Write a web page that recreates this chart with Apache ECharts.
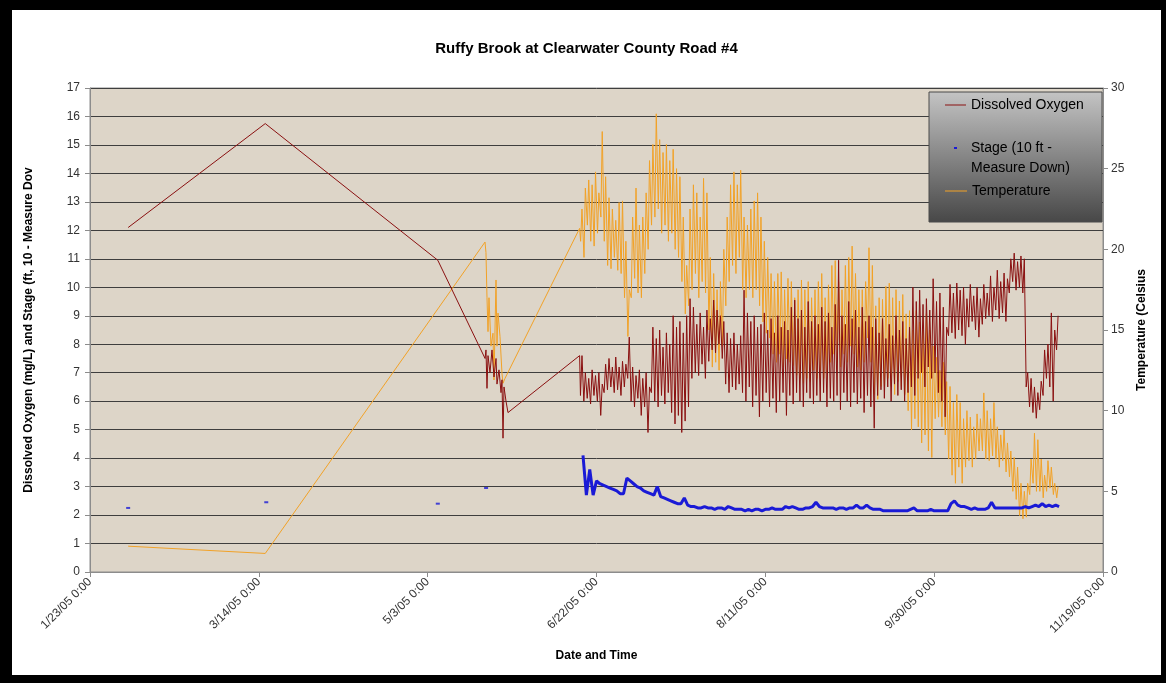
<!DOCTYPE html>
<html><head><meta charset="utf-8">
<script src="https://cdn.jsdelivr.net/npm/echarts@6/dist/echarts.min.js"></script>
<style>
html,body{margin:0;padding:0;background:#000;width:1166px;height:683px;overflow:hidden}
#c{position:absolute;left:12px;top:10px;width:1149px;height:665px;background:#fff}
</style></head><body><div id="c"></div>
<script>
// x values are days since 1/23/05 0:00
const xTickLabels = ['1/23/05 0:00','3/14/05 0:00','5/3/05 0:00','6/22/05 0:00','8/11/05 0:00','9/30/05 0:00','11/19/05 0:00'];
const leftTicks = {min:0, max:17, interval:1};
const rightTicks = {min:0, max:30, interval:5};

// sparse early readings [day, value]
const doSparse = [[11.3,12.1],[51.9,15.75],[103.0,10.95],[117.0,7.5],[117.27,7.8],[117.57,6.45],[117.87,7.6],[118.46,7.0],[119.05,7.8],[119.64,6.85],[120.24,7.5],[120.53,6.6],[121.12,7.1],[121.72,6.3],[122.01,6.75],[122.31,4.7],[122.61,6.5],[123.2,6.0],[123.79,5.6],[145.0,7.6]];
const tempSparse = [[11.3,1.6],[51.9,1.15],[116.98,20.45],[117.27,19.8],[117.57,17.0],[117.87,14.9],[118.16,17.0],[118.75,14.0],[119.34,14.8],[119.64,11.9],[120.24,18.1],[120.53,14.0],[120.83,16.05],[121.42,14.6],[122.01,12.3],[122.31,11.7],[122.9,12.0],[145.0,21.3]];
const stageSparse = [[11.3,2.25],[52.2,2.45],[103.0,2.4],[117.3,2.95]];

// continuous record, one entry per day starting at day 145 (6/17/05)
const denseStartDay = 145;
const tempHigh = [22.5,23.8,24.3,24.0,24.8, 23.5,27.3,24.5,23.2,22.5, 21.8,22.9,23.0,20.5,17.5, 22.0,23.8,21.5,22.0,23.5,
 25.5,26.5,28.4,26.8,26.0, 26.5,25.5,26.2,25.0,24.5, 22.0,19.0,22.5,24.0,23.5, 22.0,24.4,23.5,19.5,18.5,
 17.5,18.0,20.0,22.0,24.0, 24.8,24.0,24.9,22.0,21.5, 22.5,23.0,23.5,22.0,20.5, 19.5,18.5,18.0,18.5,18.6,
 17.5,18.2,18.0,17.0,17.5, 18.1,17.5,18.0,17.0,17.5, 18.0,18.5,17.0,17.8,19.0, 19.3,18.0,17.5,19.0,19.5,
 20.2,18.5,17.5,17.5,18.0, 20.1,19.0,16.5,17.0,16.9, 17.7,17.9,17.0,17.5,16.8, 17.2,16.0,16.2,15.0,16.2,
 15.5,15.0,16.0,15.0,14.0, 13.3,12.5,13.0,11.8,11.5, 10.5,11.0,10.5,9.5,10.0, 9.6,9.0,9.8,9.5,11.1,
 10.0,9.5,10.5,9.0,8.5, 8.8,8.0,7.5,7.1,6.5, 5.5,5.0,5.5,7.0,8.6, 8.2,7.0,6.0,6.9,6.5, 5.5,5.3];
const tempLow = [20.5,19.5,21.5,20.5,20.2, 21.0,22.0,20.5,19.0,18.8, 19.5,18.7,18.5,17.0,14.6, 17.0,18.2,17.3,17.0,18.5,
 20.0,21.5,22.0,22.5,21.0, 21.5,20.5,21.0,20.0,19.5, 18.0,16.0,16.5,17.5,18.5, 17.0,18.0,17.3,15.0,12.7,
 13.0,12.5,14.0,16.5,18.0, 19.0,18.5,19.5,17.5,17.0, 17.5,17.0,17.5,16.5,15.5, 14.8,14.5,13.5,13.0,13.5,
 12.7,13.2,13.0,12.8,12.2, 12.0,11.7,12.0,11.8,12.5, 12.0,12.5,12.0,12.3,13.0, 13.5,13.0,12.7,13.5,13.0,
 14.0,13.5,12.7,12.5,13.0, 14.5,13.0,11.0,10.7,11.5, 11.5,12.0,11.5,11.0,11.8, 11.5,11.0,10.0,8.8,9.5,
 9.0,8.0,8.5,7.5,7.1, 9.5,9.6,9.0,8.5,7.0, 6.0,5.5,6.5,5.5,6.5, 6.9,6.5,7.0,7.5,7.5,
 7.0,6.9,7.2,7.0,6.5, 6.9,6.2,5.9,5.0,4.5, 3.5,3.3,3.4,4.8,5.5, 5.0,5.0,4.6,5.0,5.2, 4.8,4.6];
const doHigh = [7.6,7.0,6.8,7.1,6.9, 7.0,6.6,7.3,7.5,7.2, 7.55,7.2,7.4,7.3,8.25, 7.2,6.9,7.1,6.8,7.0,
 6.5,8.6,8.2,8.5,7.9, 8.4,8.0,9.0,8.6,8.8, 8.4,9.0,9.6,9.3,8.7, 9.1,8.6,9.2,8.9,9.55,
 9.2,9.0,8.8,8.4,8.2, 8.4,8.0,8.3,9.9,9.1, 8.8,9.0,8.6,8.7,9.1, 8.5,8.9,8.4,9.0,8.6,
 8.8,8.5,9.3,9.55,8.9, 9.2,8.6,9.5,8.8,9.0, 8.7,9.3,8.8,9.1,8.6, 9.4,10.95,9.0,8.7,9.5,
 8.9,9.2,8.6,9.3,8.8, 9.0,8.6,8.9,8.4,8.9, 8.2,8.7,8.3,9.0,8.5, 8.8,8.2,8.6,10.0,9.5,
 9.9,9.4,9.6,9.2,10.3, 9.5,9.8,9.3,8.6,10.1, 9.8,10.15,9.9,10.0,9.6, 10.1,9.7,10.0,9.6,10.1,
 9.8,10.4,10.0,10.6,10.2, 10.5,10.3,11.0,11.2,10.9, 11.1,11.0,7.0,6.8,6.5, 6.3,6.7,7.8,8.0,9.1, 8.5,9.0];
const doLow = [6.2,6.0,6.1,5.9,6.2, 6.0,5.5,6.3,6.4,6.5, 6.3,6.4,6.2,6.5,6.8, 6.0,5.8,6.1,5.5,5.8,
 4.9,6.3,6.0,5.8,6.2, 5.9,6.3,5.6,5.2,5.5, 4.9,5.3,5.8,6.8,7.0, 6.9,7.3,6.8,7.4,7.8,
 7.7,8.0,7.5,6.6,6.3, 6.5,6.4,6.6,6.3,6.0, 6.5,5.8,6.2,5.45,6.0, 6.3,5.8,6.1,5.6,6.0,
 6.3,5.5,6.2,5.9,6.3, 6.0,5.8,6.3,6.1,5.9, 6.2,6.0,6.3,5.8,6.1, 6.0,6.2,5.7,6.3,6.0,
 5.8,6.3,5.9,6.1,5.6, 6.2,5.8,5.05,6.2,6.4, 6.1,6.5,6.0,6.6,6.2, 6.4,6.0,6.3,6.5,6.2,
 6.8,7.0,6.5,7.2,6.8, 7.0,6.3,6.0,5.45,8.3, 8.4,8.2,8.5,8.3,8.0, 8.6,8.8,8.5,8.25,8.7,
 8.9,9.0,8.8,9.2,8.9, 9.1,8.8,9.8,10.2,9.9, 10.0,9.8,6.5,5.8,5.6, 5.4,5.7,6.2,6.8,6.5, 6.0,7.8];
// stage, one entry per day starting at day 146
const stageStartDay = 146;
const stageDaily = [4.1,2.7,3.6,2.7,3.2, 3.1,3.05,3.0,2.95,2.9, 2.85,2.75,2.75,3.3,3.2, 3.1,3.0,2.95,2.85,2.8,
 2.75,2.7,3.0,2.65,2.6, 2.55,2.5,2.45,2.4,2.4, 2.6,2.35,2.3,2.3,2.25, 2.25,2.3,2.25,2.25,2.2,
 2.25,2.25,2.2,2.3,2.25, 2.2,2.2,2.2,2.15,2.2, 2.15,2.2,2.2,2.15,2.2, 2.2,2.25,2.2,2.2,2.2,
 2.3,2.25,2.3,2.25,2.2, 2.2,2.25,2.25,2.3,2.45, 2.3,2.25,2.25,2.25,2.25, 2.2,2.25,2.25,2.2,2.25,
 2.25,2.35,2.25,2.25,2.35, 2.25,2.2,2.2,2.2,2.15, 2.15,2.15,2.15,2.15,2.15, 2.15,2.15,2.2,2.25,2.15,
 2.15,2.15,2.15,2.2,2.15, 2.15,2.15,2.15,2.15,2.4, 2.5,2.35,2.3,2.3,2.25, 2.2,2.25,2.2,2.2,2.2,
 2.25,2.45,2.25,2.25,2.25, 2.25,2.25,2.25,2.25,2.25, 2.25,2.3,2.25,2.3,2.35, 2.3,2.4,2.3,2.35,2.3, 2.35,2.3];

const seriesNames = ['Dissolved Oxygen','Stage (10 ft - Measure Down)','Temperature'];

// build point lists
const doData = doSparse.slice();
doHigh.forEach((h,i)=>{ const d=denseStartDay+i; doData.push([d+0.25, doLow[i]]); doData.push([d+0.7, h]); });
const tempData = tempSparse.slice();
tempHigh.forEach((h,i)=>{ const d=denseStartDay+i; tempData.push([d+0.3, tempLow[i]]); tempData.push([d+0.7, h]); });
const stageData = stageDaily.map((v,i)=>[stageStartDay+i, v]);

const FONT = 'Arial, "Liberation Sans", sans-serif';
const chart = echarts.init(document.getElementById('c'), null, {renderer:'canvas'});
const axisGray = '#8c8c8c';
chart.setOption({
  animation:false,
  backgroundColor:'#fff',
  textStyle:{fontFamily:FONT},
  title:{text:'Ruffy Brook at Clearwater County Road #4', left:'center', top:26,
    textStyle:{fontFamily:FONT, fontSize:15, fontWeight:'bold', color:'#000'}},
  grid:{left:78, top:78, width:1013, height:484, show:true, backgroundColor:'#ddd5c8', borderColor:axisGray, borderWidth:1},
  xAxis:{type:'value', min:0, max:300, interval:50,
    name:'Date and Time', nameLocation:'middle', nameGap:78,
    nameTextStyle:{fontFamily:FONT, fontSize:12, fontWeight:'bold', color:'#000'},
    axisLine:{lineStyle:{color:axisGray}}, axisTick:{show:true, length:5, lineStyle:{color:axisGray}},
    splitLine:{show:false},
    axisLabel:{rotate:45, fontSize:12, color:'#333', margin:8, fontFamily:FONT,
      formatter:v=>xTickLabels[Math.round(v/50)]}},
  yAxis:[
    {type:'value', min:leftTicks.min, max:leftTicks.max, interval:leftTicks.interval, position:'left',
     name:'Dissolved Oxygen (mg/L) and Stage (ft, 10 - Measure Dov', nameLocation:'middle', nameGap:55, nameRotate:90,
     nameTextStyle:{fontFamily:FONT, fontSize:12, fontWeight:'bold', color:'#000'},
     axisLine:{show:true, lineStyle:{color:axisGray}}, axisTick:{show:true, length:5, lineStyle:{color:axisGray}},
     axisLabel:{fontSize:12, color:'#333', margin:10, fontFamily:FONT},
     splitLine:{show:true, lineStyle:{color:'#3e3e3e', width:1}}},
    {type:'value', min:rightTicks.min, max:rightTicks.max, interval:rightTicks.interval, position:'right',
     name:'Temperature (Celsius', nameLocation:'middle', nameGap:28, nameRotate:90,
     nameTextStyle:{fontFamily:FONT, fontSize:12, fontWeight:'bold', color:'#000'},
     axisLine:{show:true, lineStyle:{color:axisGray}}, axisTick:{show:true, length:5, lineStyle:{color:axisGray}},
     axisLabel:{fontSize:12, color:'#333', margin:8, fontFamily:FONT},
     splitLine:{show:false}}
  ],
  graphic:[{type:'rect', z:5, shape:{x:917, y:82, width:173, height:130},
    style:{fill:new echarts.graphic.LinearGradient(0,0,0,1,[{offset:0,color:'#c4c4c4'},{offset:1,color:'#474747'}]), stroke:'#4a4a4a', lineWidth:1}}],
  legend:[
    {z:6, left:933, top:85, padding:0, itemWidth:21, itemHeight:1, selectedMode:false,
     data:[{name:seriesNames[0], icon:'rect'}], itemStyle:{borderWidth:0},
     textStyle:{fontFamily:FONT, fontSize:14, color:'#000', lineHeight:20}},
    {z:6, left:933, top:128, padding:0, itemWidth:21, itemHeight:22, selectedMode:false,
     data:[{name:seriesNames[1], icon:'path://M0,0L0,0M21,0L21,0M9,0H12V2H9ZM0,22L0,22'}], itemStyle:{borderWidth:0},
     formatter:()=> 'Stage (10 ft -\nMeasure Down)',
     textStyle:{fontFamily:FONT, fontSize:14, color:'#000', lineHeight:20}},
    {z:6, left:933, top:171, padding:0, itemWidth:22, itemHeight:1, selectedMode:false,
     data:[{name:seriesNames[2], icon:'rect'}], itemStyle:{borderWidth:0},
     textStyle:{fontFamily:FONT, fontSize:14, color:'#000', lineHeight:20}}
  ],
  series:[
    {name:seriesNames[2], type:'line', yAxisIndex:1, data:tempData, showSymbol:false, symbol:'none',
     lineStyle:{color:'#f2a227', width:1}, itemStyle:{color:'#f2a227'}, z:2},
    {name:seriesNames[0], type:'line', yAxisIndex:0, data:doData, showSymbol:false, symbol:'none',
     lineStyle:{color:'#8a1010', width:1}, itemStyle:{color:'#8a1010'}, z:3},
    {name:seriesNames[1], type:'line', yAxisIndex:0, data:stageData, showSymbol:false, symbol:'none',
     lineStyle:{color:'#1a1ad6', width:3}, itemStyle:{color:'#1a1ad6'}, z:4},
    {name:seriesNames[1], type:'scatter', yAxisIndex:0, data:stageSparse, symbol:'rect', symbolSize:[4,2],
     itemStyle:{color:'#1a1ad6'}, z:4}
  ]
});
</script></body></html>
